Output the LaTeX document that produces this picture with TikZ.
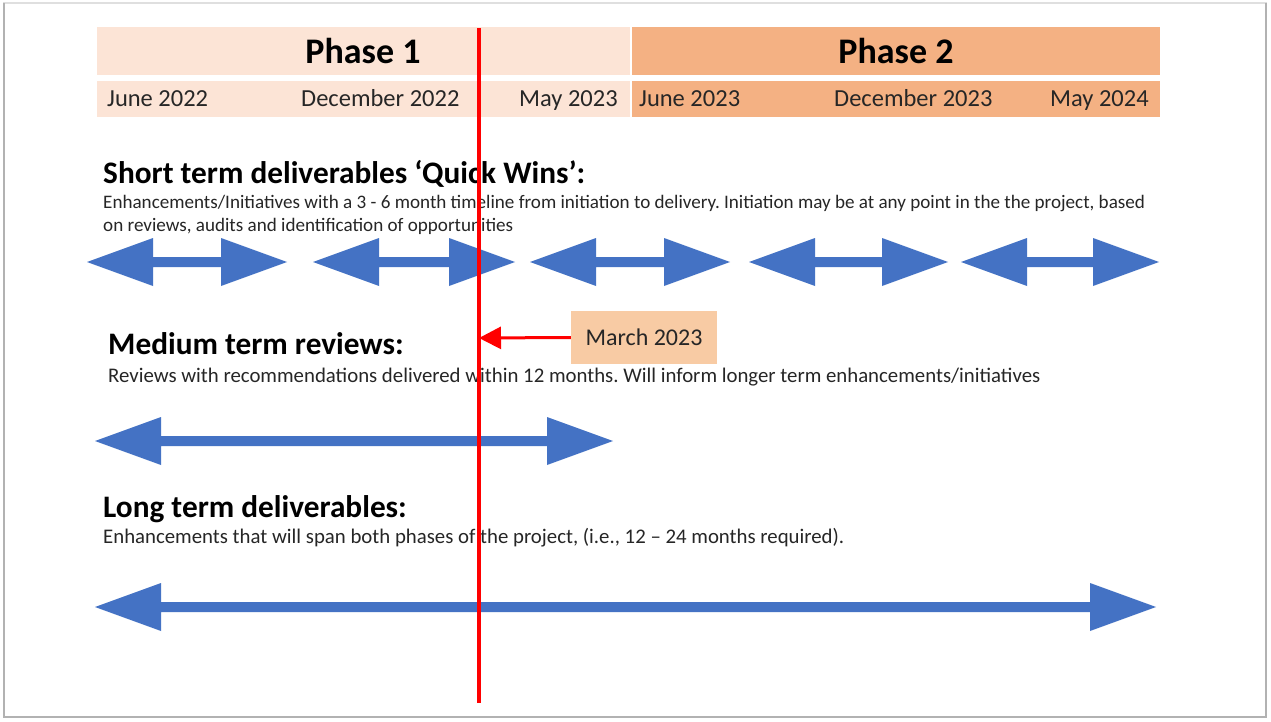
\documentclass[tikz,border=0pt]{standalone}
\usepackage{fontspec}
\setmainfont{Carlito}
\usetikzlibrary{arrows.meta}
\frenchspacing

\definecolor{phaseonefill}{HTML}{FCE4D6}
\definecolor{phasetwofill}{HTML}{F4B183}
\definecolor{marchfill}{HTML}{F8CBA4}
\definecolor{qblue}{HTML}{4472C4}

% block arrow with a head at each end: from x=#1 to x=#2 at height #3
\newcommand{\twoway}[3]{%
  \fill[qblue] (#1,#3) -- (#1+66,#3-24) -- (#1+66,#3-5) -- (#2-66,#3-5) -- (#2-66,#3-24)
    -- (#2,#3) -- (#2-66,#3+24) -- (#2-66,#3+5) -- (#1+66,#3+5) -- (#1+66,#3+24) -- cycle;}

\begin{document}
\begin{tikzpicture}[x=1pt, y=-1pt,
    datelbl/.style={anchor=base west, inner sep=0pt, font=\fontsize{24.5}{28}\selectfont, text=black!85},
    phaselbl/.style={anchor=base, inner sep=0pt, font=\fontsize{36}{40}\selectfont\bfseries},
    heading/.style={anchor=base west, inner sep=0pt, font=\fontsize{31.3}{36}\selectfont\bfseries},
    bodytxt/.style={anchor=base west, inner sep=0pt, align=left, font=\fontsize{20.8}{24}\selectfont, text=black!85}]
        \useasboundingbox (0,0) rectangle (1271,722);
        \fill[white] (0,0) rectangle (1271,722);

        % slide frame
        \draw[gray!25, line width=1.5] (3,3)--(1267,3);
        \draw[gray!60, line width=2.5] (4,3)--(4,717)--(1266,717)--(1266,3);

        % phase bands and date row
        \fill[phaseonefill] (97,27) rectangle (630,75);
        \fill[phasetwofill] (632,27) rectangle (1160,75);
        \fill[phaseonefill] (97,81) rectangle (630,117);
        \fill[phasetwofill] (632,81) rectangle (1160,117);

        \node[phaselbl] (ph1) at (363,64) {Phase 1};
        \node[phaselbl] (ph2) at (896,64) {Phase 2};

        \node[datelbl] (jun22) at (107,107) {June 2022};
        \node[datelbl] (dec22) at (301,107) {December 2022};
        \node[datelbl] (may23) at (519,107) {May 2023};
        \node[datelbl] (jun23) at (639,107) {June 2023};
        \node[datelbl] (dec23) at (834,107) {December 2023};
        \node[datelbl] (may24) at (1050,107) {May 2024};

        % short term
        \node[heading] (quickhead) at (103,184) {Short term deliverables ‘Quick Wins’:};
        \node[bodytxt, font=\fontsize{19.1}{23}\selectfont] (quicktxt) at (103,231) {Enhancements/Initiatives with a 3 - 6 month timeline from initiation to delivery. Initiation may be at any point in the the project, based\\on reviews, audits and identification of opportunities};

        \twoway{87}{287}{262}
        \twoway{313}{515}{262}
        \twoway{530}{730}{262}
        \twoway{749}{948}{262}
        \twoway{961}{1159}{262}

        % medium term
        \node[heading] (medhead) at (108,354) {Medium term reviews:};
        \node[bodytxt] (medtxt) at (108,382) {Reviews with recommendations delivered within 12 months. Will inform longer term enhancements/initiatives};

        \twoway{95}{613}{441}

        % long term
        \node[heading] (longhead) at (103,517) {Long term deliverables:};
        \node[bodytxt] (longtxt) at (103,543) {Enhancements that will span both phases of the project, (i.e., 12 – 24 months required).};

        \twoway{95}{1156}{607}

        % today marker
        \coordinate (nowtop) at (479,28);
        \coordinate (nowbot) at (479,703);
        \coordinate (nowhit) at (479,338);
        \draw[red, line width=3.5] (nowtop)--(nowbot);

        \node[fill=marchfill, minimum width=146, minimum height=53, inner sep=0pt,
              font=\fontsize{24}{28}\selectfont, text=black!85] (march) at (644,337.5) {March 2023};
        \draw[red, line width=3, -{Triangle[length=22,width=22]}] (march.west)--(nowhit);
\end{tikzpicture}
\end{document}
